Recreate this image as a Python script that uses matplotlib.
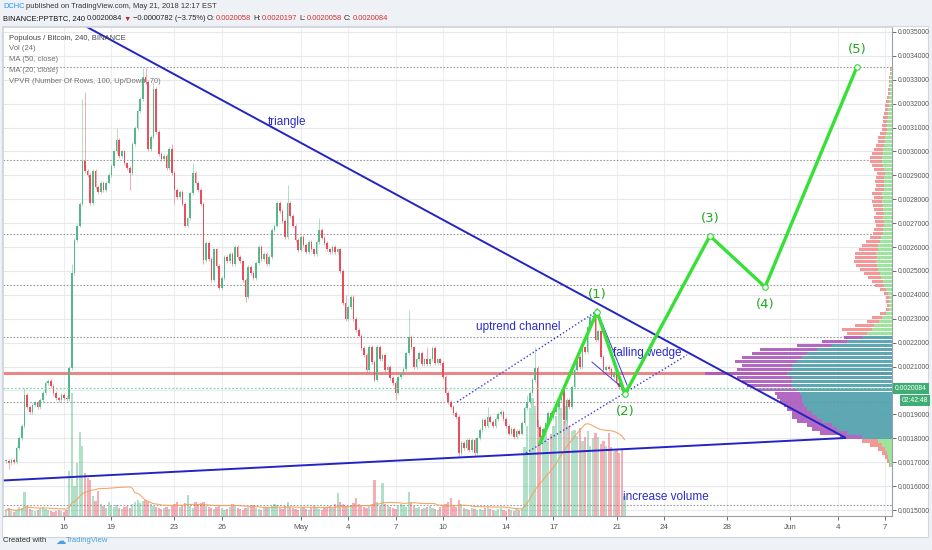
import numpy as np
import pandas as pd
import matplotlib
matplotlib.use("Agg")
import matplotlib.pyplot as plt
import matplotlib.dates as mdates
from matplotlib.patches import Rectangle

plt.rcParams['font.family'] = ['Liberation Sans', 'DejaVu Sans']

U = 1e-7  # prices below are in units of 1e-7 BTC

# ---------------- data (4h candles, PPT/BTC) ----------------
last_candle = '2018-05-21 12:00'
pre_close = [17000, 17100, 17050, 17200, 17150, 17100, 17250, 17200, 17100, 17000,
             17150, 17300, 17200, 17100, 17050, 17200, 17250, 17150, 17100, 17000,
             16950, 17050, 17150, 17200, 17100, 17000, 17100, 17200, 17150, 17100,
             17050, 17150, 17200, 17100, 17050, 17000, 17100, 17150, 17050, 17100,
             17200, 17150, 17100, 17050, 17000, 17100, 17150, 17100, 17050]
close = [
    17050, 16950, 17100, 17000, 17600, 18000, 18500, 19800, 19300, 19100, 19400, 19500,
    19300, 19600, 19900, 20300, 20400, 20200, 19900, 19700, 19600, 19800, 19700, 19650,
    20940, 24900, 26300, 26900, 27800, 29600, 29200, 29000, 27850, 29200, 28500, 28300,
    28700, 28400, 28700, 29000, 29400, 30000, 30480, 29800, 30000, 29500, 29300, 29100,
    30300, 31000, 31700, 32200, 33100, 32900, 30100, 30600, 32600, 30800, 29900, 29700,
    29800, 29300, 30100, 29100, 28400, 28100, 28300, 27800, 26900, 27200, 28260, 29100,
    28700, 28400, 27800, 25460, 26170, 25500, 24620, 25900, 25200, 24290, 24700, 25590,
    25400, 25700, 25300, 26010, 25600, 25400, 24620, 23910, 25170, 24900, 24700, 25340,
    26000, 25500, 25700, 25300,
    25600, 26720, 26900, 27840, 27500, 27100, 26430, 27840, 27300, 26900, 26300, 25880,
    26430, 26100, 25800, 26200, 25900, 25700, 26200, 26720, 26400, 26170, 25900, 25800,
    26000, 25800, 25900, 25000, 23660, 23000, 23500, 23900, 23000, 22530, 22300, 21780,
    21500, 20860, 21820, 21200,
    20440, 21820, 21300, 21500, 20860, 21000, 20520, 20300, 19900, 20570, 20700, 20900,
    21570, 22240, 21800, 21000, 21300, 21570, 21100, 21300, 21100, 21300, 21780, 21150,
    21300, 21150, 20570, 19900, 19520, 19300, 19060, 18900, 17380, 17800, 17600, 17930,
    17500, 17930, 17380, 18000,
    18350, 18770, 18500, 18900, 18700, 18500, 18800, 19000, 19100, 18800, 18500, 18200,
    18400, 18050, 18300, 18200, 18650, 19270, 19500, 19900, 20440, 20940, 18480, 18050,
    18400, 18650, 19060, 18900, 19100, 19320, 19600, 20000, 18770, 19600, 19300, 20150,
    20850, 21400, 21000, 21800, 21600, 22660, 23080, 23100, 22110, 22500, 21420, 20860,
    21000, 20900, 20570, 20750, 20300, 20150, 20020, 20084]
wick_high = {7: 20100, 25: 25300, 29: 32200, 30: 32500, 42: 31000, 52: 33500, 53: 33500,
             56: 32900, 63: 30300, 71: 29500, 107: 28600, 119: 27200, 129: 24000,
             153: 23370, 160: 21800, 183: 19300, 198: 19800, 201: 21800, 223: 23300}
wick_low = {1: 16700, 47: 28400, 64: 27800, 75: 25300, 91: 23700, 148: 19600,
            172: 17200, 178: 17250, 203: 17800, 212: 18600}
volume = [6, 8, 5, 4, 6, 9, 8, 24, 10, 7, 6, 5, 6, 8, 9, 7, 6, 5, 4, 5, 6, 5, 4, 6,
          45, 123, 30, 53, 84, 70, 43, 38, 36, 20, 15, 25,
          12, 10, 8, 14, 10, 9, 11, 8, 7, 9, 10, 8, 12, 14, 16, 13, 15, 16, 14, 12, 10, 9, 8, 7,
          8, 9, 7, 10, 12, 14, 9, 11, 13, 21, 10, 8, 14, 12, 13, 14, 10, 9, 8, 7,
          9, 10, 8, 6, 7, 9, 12, 10, 8, 7, 6, 8, 9, 10, 11, 8, 7, 6, 9, 8,
          9, 10, 12, 11, 8, 7, 10, 14, 9, 8, 7, 6, 8, 9, 7, 6, 8, 10, 9, 7,
          6, 8, 9, 10, 8, 12, 23, 14, 12, 10, 9, 11, 13, 18, 12, 10, 9, 8, 10, 12,
          36, 14, 10, 33, 12, 10, 9, 8, 7, 10, 12, 11, 9, 24, 13, 10, 8, 9, 7, 8,
          9, 10, 8, 7, 6, 9, 11, 12, 14, 18, 10, 9, 16, 12, 8, 7, 6, 8, 7, 6,
          7, 6, 8, 9, 7, 6, 5, 7, 8, 6, 5, 7, 6, 5, 8, 6, 7,
          69, 90, 108, 118, 110, 96, 85, 80, 88, 75, 82, 90, 100, 113, 108, 95, 110, 90, 85, 86,
          80, 88, 75, 79, 85, 70, 78, 83, 79, 72, 75, 70, 83, 69, 65, 67, 63, 66, 20]

# Volume profile (100 rows, from 0.00168 up to 0.00335)
vp_low, vp_step = 16800, 167
vp_up = [2, 3, 4, 5, 7, 10, 14, 30, 45, 55, 60, 70, 75, 80, 85, 88, 90, 90, 92, 95,
         100, 100, 100, 105, 100, 100, 95, 90, 85, 75, 60, 45, 30, 25, 20, 18, 13, 10, 6, 3,
         3, 3, 3, 4, 6, 8, 9, 11, 12, 14, 15, 16, 15, 16, 14, 14, 12, 11, 9, 9,
         8, 8, 9, 8, 9, 9, 10, 9, 10, 8, 8, 8, 8, 7, 8, 9, 10, 10, 9, 9,
         8, 7, 7, 6, 5, 5, 5, 4, 4, 4, 3, 3, 3, 2, 2, 2, 2, 2, 1, 1]
vp_dn = [1, 2, 3, 5, 7, 12, 16, 22, 27, 25, 25, 25, 25, 20, 20, 20, 22, 25, 25, 40,
         45, 50, 55, 82, 55, 50, 62, 60, 55, 57, 35, 25, 18, 20, 30, 19, 12, 10, 6, 3,
         2, 3, 3, 4, 6, 9, 11, 13, 16, 18, 21, 22, 22, 21, 19, 16, 14, 11, 10, 9,
         8, 9, 9, 8, 9, 10, 10, 9, 10, 9, 8, 9, 8, 8, 10, 11, 12, 12, 11, 9,
         8, 7, 7, 6, 5, 5, 4, 5, 4, 3, 4, 3, 2, 2, 2, 1, 1, 1, 1, 1]

# drawings (days from 2018-04-16, price)
tri_upper_day, tri_upper_price = [-0.25, 49.46], [35820, 18034]
tri_lower_day, tri_lower_price = [-3.86, 49.46], [16235, 18013]
chan_upper_day, chan_upper_price = [24.89, 33.76], [19519, 23327]
chan_lower_day, chan_lower_price = [29.26, 39.46], [17385, 21486]
wedge_upper_day, wedge_upper_price = [33.82, 35.66], [23243, 20230]
wedge_lower_day, wedge_lower_price = [33.44, 35.53], [21192, 20021]
wave_day = [30.15, 33.76, 35.53, 40.91, 44.40, 50.22]
wave_price = [17800, 23290, 19850, 26470, 24330, 33540]
wave_label = ['', '(1)', '(2)', '(3)', '(4)', '(5)']
hlines = [33540, 29640, 26550, 24410, 22240, 19520, 15200]
notes = [('triangle', 14.12, 31234), ('uptrend channel', 28.75, 22657),
         ('falling wedge', 36.92, 21569), ('increase volume', 38.13, 15544)]
last_price = 20084

tick_dates = ['2018-04-16', '2018-04-19', '2018-04-23', '2018-04-26', '2018-05-01', '2018-05-04',
              '2018-05-07', '2018-05-10', '2018-05-14', '2018-05-17', '2018-05-21', '2018-05-24',
              '2018-05-28', '2018-06-01', '2018-06-04', '2018-06-07']
tick_labels = ['16', '19', '23', '26', 'May', '4', '7', '10', '14', '17', '21', '24',
               '28', 'Jun', '4', '7']

# ---------------- derived ----------------
n = min(len(close), len(volume))
close = close[:n]
volume = volume[:n]
end = pd.Timestamp(last_candle)
times = [end - pd.Timedelta(hours=4 * (n - 1 - i)) for i in range(n)]
x = mdates.date2num(times)
base = mdates.date2num(pd.Timestamp('2018-04-16'))

opens = [pre_close[-1]] + close[:-1]
highs, lows = [], []
for i in range(n):
    top, bot = max(opens[i], close[i]), min(opens[i], close[i])
    highs.append(max(wick_high.get(i, top + 80), top))
    lows.append(min(wick_low.get(i, bot - 80), bot))

allc = pd.Series(pre_close + close, dtype=float)
ma20 = allc.rolling(20, min_periods=1).mean().values[-n:]
ma50 = allc.rolling(50, min_periods=1).mean().values[-n:]
vol_ma = pd.Series(volume, dtype=float).rolling(24, min_periods=1).mean().values

UP, DN = '#53b987', '#eb4d5c'
up = np.array(close) >= np.array(opens)
cols = np.where(up, UP, DN)

W, H = 932, 550
fig = plt.figure(figsize=(W / 100, H / 100), dpi=100)
fig.patch.set_facecolor('#eef1f5')
fig.patches.append(Rectangle((2 / W, 1 - 537 / H), 926 / W, 511 / H, transform=fig.transFigure,
                             facecolor='white', edgecolor='#d3d7dd', lw=0.8, zorder=-1))
rect = [3 / W, 1 - 516 / H, 889 / W, 489 / H]
ax_bg = fig.add_axes(rect, zorder=0)
ax_vol = fig.add_axes(rect, zorder=1)
ax_vp = fig.add_axes(rect, zorder=2)
ax = fig.add_axes(rect, zorder=3)

xl = (base - 3.86, base + 52.44)
yl = (14749 * U, 35209 * U)
for a in (ax_bg, ax_vol, ax_vp, ax):
    a.set_xlim(*xl)
for a in (ax_bg, ax_vp, ax):
    a.set_ylim(*yl)

# background grid
ax_bg.set_facecolor('white')
ax_bg.axis('off')
tick_x = [mdates.date2num(pd.Timestamp(t)) for t in tick_dates]
for tx in tick_x:
    ax_bg.axvline(tx, color='#eceef2', lw=0.8)
for p in range(15, 36):
    ax_bg.axhline(p * 1e-4, color='#e6e8ec', lw=0.8)
for h in hlines:
    ax_bg.axhline(h * U, color='#9a9a9a', lw=0.8, ls=(0, (1.5, 1.5)))

# volume
ax_vol.patch.set_visible(False)
ax_vol.axis('off')
ax_vol.bar(x, volume, width=0.85 / 6, color=cols, alpha=0.45, linewidth=0)
ax_vol.plot(x, vol_ma, color='#f2a05e', lw=0.8, alpha=0.9)
ax_vol.set_ylim(0, max(volume) * 489 / 123)

# volume profile
ax_vp.patch.set_visible(False)
ax_vp.axis('off')
tot = np.array(vp_up) + np.array(vp_dn)
poc = int(np.argmax(tot))
lo = hi = poc
acc = tot[poc]
while acc < 0.7 * tot.sum():
    a_up = tot[hi + 1] if hi + 1 < len(tot) else -1
    a_dn = tot[lo - 1] if lo - 1 >= 0 else -1
    if a_up >= a_dn:
        hi += 1
        acc += a_up
    else:
        lo -= 1
        acc += a_dn
centers = np.array([(vp_low + vp_step * (k + 0.5)) * U for k in range(len(tot))])
inva = np.array([lo <= k <= hi for k in range(len(tot))])
ax_vp.set_xlim(889, 0)
ax_vp.barh(centers, vp_up, height=vp_step * U * 0.82, left=0,
           color=np.where(inva, '#4d9fab', '#93e293'), alpha=0.9, linewidth=0)
ax_vp.barh(centers, vp_dn, height=vp_step * U * 0.82, left=vp_up,
           color=np.where(inva, '#ab58bb', '#f28c8c'), alpha=0.9, linewidth=0)
ax_bg.axhline(centers[poc], color='#e67a7a', lw=2.2, alpha=0.9)

# main price axis
ax.patch.set_visible(False)
ax.axhline(last_price * U, color='#7fd6a6', lw=0.9, ls=(0, (1.5, 1.5)))
ax.vlines(x, np.array(lows) * U, np.array(highs) * U, colors=cols, lw=0.6, alpha=0.55)
bot = np.minimum(opens, close) * U
hgt = np.maximum(np.abs(np.array(close) - np.array(opens)), 25) * U
ax.bar(x, hgt, bottom=bot, width=0.62 / 6, color=cols, linewidth=0)
ax.plot(x, ma50, color='#f7a01c', lw=1.2)
ax.plot(x, ma20, color='#e4262b', lw=1.2)

# drawings
def dd(days):
    return [base + d for d in days]

def pp(prices):
    return [v * U for v in prices]

ax.plot(dd(tri_upper_day), pp(tri_upper_price), color='#2424c4', lw=1.4)
ax.plot(dd(tri_lower_day), pp(tri_lower_price), color='#2424c4', lw=1.4)
ax.plot(dd(chan_upper_day), pp(chan_upper_price), color='#3a3ad8', lw=1.0, ls=(0, (1, 1.6)))
ax.plot(dd(chan_lower_day), pp(chan_lower_price), color='#3a3ad8', lw=1.0, ls=(0, (1, 1.6)))
ax.plot(dd(wedge_upper_day), pp(wedge_upper_price), color='#3a3ad8', lw=0.7)
ax.plot(dd(wedge_lower_day), pp(wedge_lower_price), color='#3a3ad8', lw=0.7)
ax.plot(dd(wave_day), pp(wave_price), color='#36e036', lw=2.4, solid_joinstyle='miter', zorder=6)
ax.scatter(dd(wave_day[1:]), pp(wave_price[1:]), s=16, facecolor='white', edgecolor='#36d836',
           lw=0.8, zorder=7)
for lab, d, p in zip(wave_label, dd(wave_day), pp(wave_price)):
    if not lab:
        continue
    below = lab in ('(2)', '(4)')
    ax.annotate(lab, (d, p), xytext=(0, -8 if below else 8), textcoords='offset points',
                ha='center', va='top' if below else 'bottom', color='#20a820', fontsize=9.5,
                family=['DejaVu Sans'], zorder=8)
for txt, d, p in notes:
    ax.text(base + d, p * U, txt, color='#2b2bd0', fontsize=8.5, ha='center', va='center')

# axes styling (the 0.0020000 label sits under the last-price tag)
ax.yaxis.tick_right()
ax.set_yticks([v * 1e-4 for v in range(15, 36)])
ax.set_yticklabels(['' if v == 20 else '%.7f' % (v * 1e-4) for v in range(15, 36)])
ax.set_xticks(tick_x)
ax.set_xticklabels(tick_labels)
ax.tick_params(axis='y', labelsize=4.9, colors='#555555', length=3, width=0.6, pad=1.5)
ax.tick_params(axis='x', labelsize=5.8, colors='#555555', length=3, width=0.6, pad=3)
for s in ('right', 'bottom'):
    ax.spines[s].set_color('#9aa0a8')
    ax.spines[s].set_linewidth(0.8)
for s in ('left', 'top'):
    ax.spines[s].set_color('#cfd3d9')
    ax.spines[s].set_linewidth(0.6)

# last price tags
ax.annotate('%.7f' % (last_price * U), (1.0, last_price * U), xycoords=('axes fraction', 'data'),
            xytext=(2, 0), textcoords='offset points', ha='left', va='center', fontsize=4.9,
            color='white', bbox=dict(boxstyle='square,pad=0.3', fc='#3fae74', ec='none'))
ax.annotate('02:42:48', (1.0, last_price * U), xycoords=('axes fraction', 'data'),
            xytext=(7.0, -8.5), textcoords='offset points', ha='left', va='center', fontsize=4.9,
            color='white', bbox=dict(boxstyle='square,pad=0.3', fc='#3fae74', ec='none'))

# header / legend texts laid out left to right
renderer = fig.canvas.get_renderer()

def row(px, py, parts, size, gap=1.6):
    cx = px
    for s, c in parts:
        t = fig.text(cx / W, 1 - py / H, s, va='center', ha='left', color=c, fontsize=size)
        cx += t.get_window_extent(renderer).width + gap

row(3, 7, [('DCHC', '#2196f3'),
           ('published on TradingView.com, May 21, 2018 12:17 EST', '#333333')], 5.4)
row(3, 19, [('BINANCE:PPTBTC, 240', '#111111'), ('0.0020084', '#222222'), ('▼', '#c62828'),
            ('−0.0000782 (−3.75%)', '#222222'), ('O:', '#222222'), ('0.0020058', '#d32f2f'),
            ('H:', '#222222'), ('0.0020197', '#d32f2f'), ('L:', '#222222'),
            ('0.0020058', '#d32f2f'), ('C:', '#222222'), ('0.0020084', '#d32f2f')], 5.4)

legend_lines = ['Populous / Bitcoin, 240, BINANCE', 'Vol (24)', 'MA (50, close)', 'MA (20, close)',
                'VPVR (Number Of Rows, 100, Up/Down, 70)']
for k, s in enumerate(legend_lines):
    fig.text(9 / W, 1 - (38 + 10.8 * k) / H, s, va='center', ha='left',
             color='#444444' if k == 0 else '#707070', fontsize=5.5)

row(3, 541, [('Created with', '#333333')], 5.5)
fig.text(55 / W, 1 - 541 / H, '☁', va='center', ha='left', color='#4aa3df', fontsize=7.5,
         family=['DejaVu Sans'])
fig.text(66 / W, 1 - 541 / H, 'TradingView', va='center', ha='left', color='#4aa3df', fontsize=5.5)

fig.savefig('out.png', dpi=100, facecolor=fig.get_facecolor())
